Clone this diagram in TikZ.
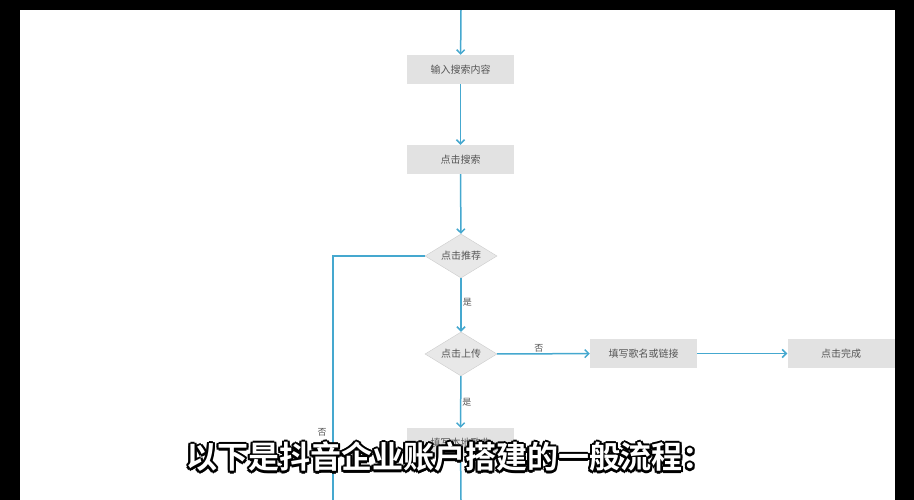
\documentclass[tikz,border=0pt]{standalone}
\usepackage{fontspec}
\setmainfont{Noto Sans CJK SC}
\newfontfamily\subfont{Noto Sans CJK SC Bold}
\usetikzlibrary{shapes.geometric,arrows.meta}
\definecolor{ln}{HTML}{45A8CF}
\definecolor{bx}{HTML}{E2E2E2}
\definecolor{tx}{HTML}{555555}
\tikzset{
 flow/.style={draw=ln,line width=1.5pt,-{Straight Barb[length=4pt,width=8pt]}},
 plain/.style={draw=ln,line width=1.5pt},
 boxn/.style={fill=bx,minimum width=107pt,minimum height=29pt,inner sep=0,text=tx,font=\fontsize{10}{11}\selectfont},
 dia/.style={diamond,aspect=1.65,draw=gray!40,fill=bx!80,minimum width=72pt,minimum height=44pt,inner sep=0,text=tx,font=\fontsize{10}{11}\selectfont},
 lab/.style={text=tx,font=\fontsize{9}{10}\selectfont,inner sep=1pt}
}
\begin{document}
\begin{tikzpicture}[x=1pt,y=-1pt]
\useasboundingbox (0,0) rectangle (914,500);
\fill[white] (0,0) rectangle (914,500);
\coordinate (top) at (461,10);
\node[boxn] (a) at (460.5,69.5) {输入搜索内容};
\node[boxn] (b) at (460.5,159.5) {点击搜索};
\node[dia] (c) at (461,256) {点击推荐};
\node[dia] (d) at (461,354) {点击上传};
\node[boxn] (e) at (643.5,353.5) {填写歌名或链接};
\node[boxn] (f) at (841,353.5) {点击完成};
\node[boxn] (g) at (460.5,442.5) {填写本地歌曲};
\coordinate (lc) at (333,256);
\coordinate (lb) at (333,500);
\coordinate (gb) at (461,500);
\draw[flow] (top) -- (a);
\draw[flow] (a) -- (b);
\draw[flow] (b) -- (c);
\draw[flow] (c) -- node[lab,right,pos=0.45]{是} (d);
\draw[flow] (d) -- node[lab,above,pos=0.45]{否} (e);
\draw[flow] (e) -- (f);
\draw[flow] (d) -- node[lab,right,pos=0.5]{是} (g);
\draw[plain] (c.west) -- (lc) -- (lb);
\node[lab] at (322,432) {否};
\draw[plain] (g) -- (gb);
% black frame
\fill[black] (0,0) rectangle (914,10);
\fill[black] (0,0) rectangle (20,500);
\fill[black] (895,0) rectangle (914,500);
% subtitle
\foreach \dx/\dy in {-2.2/0,2.2/0,0/-2.2,0/2.2,-1.6/-1.6,1.6/1.6,-1.6/1.6,1.6/-1.6}
  \node[font=\subfont\fontsize{31}{34}\selectfont,text=black] at ([xshift=\dx pt,yshift=\dy pt]450,457) {以下是抖音企业账户搭建的一般流程：};
\node[font=\subfont\fontsize{31}{34}\selectfont,text=white] (sub) at (450,457) {以下是抖音企业账户搭建的一般流程：};
\end{tikzpicture}
\end{document}
